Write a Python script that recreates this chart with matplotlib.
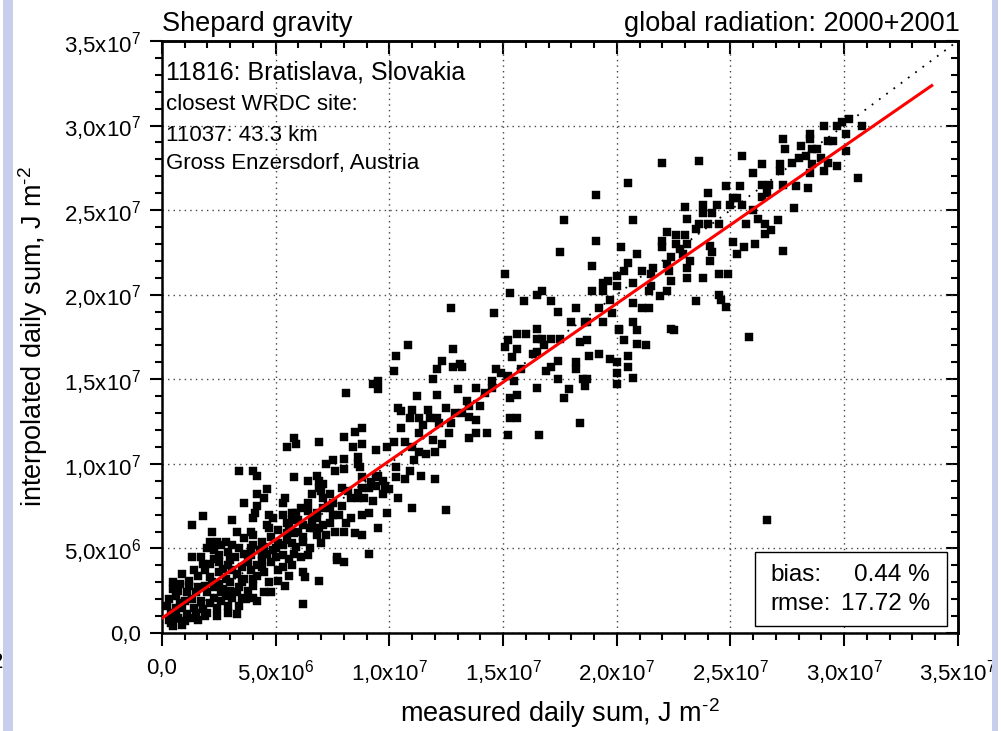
import numpy as np
import matplotlib
matplotlib.use("Agg")
import matplotlib.pyplot as plt
from matplotlib.patches import Rectangle
from matplotlib.ticker import MultipleLocator, FuncFormatter

plt.rcParams['font.family'] = ['Liberation Sans', 'DejaVu Sans']
plt.rcParams['mathtext.fontset'] = 'custom'
plt.rcParams['mathtext.rm'] = 'Liberation Sans'
plt.rcParams['mathtext.it'] = 'Liberation Sans'

# measured vs interpolated daily sums, in MJ m-2 (scaled to J m-2 below)
pts_upper = [
    (29.1,30.0),(29.7,30.0),(29.9,30.2),(30.2,30.4),(30.8,30.0),(30.1,29.5),(28.5,29.5),(28.5,29.2),
    (27.3,29.2),(28.1,28.8),(27.4,28.6),(28.6,28.6),(28.8,28.6),(29.3,29.1),(29.5,29.1),(30.1,28.5),
    (25.5,28.2),(23.6,27.9),(22.0,27.8),(26.4,27.7),(27.2,27.7),(27.7,27.8),(28.0,28.1),(28.3,28.2),
    (28.6,27.7),(29.0,28.1),(29.3,27.8),(29.7,27.6),(29.1,27.3),(28.5,27.2),(27.2,27.3),(26.0,27.2),
    (30.6,26.9),(20.5,26.6),(24.8,26.4),(25.4,26.4),(26.4,26.5),(26.7,26.5),(27.3,26.5),(27.9,26.4),
    (28.4,26.3),(19.1,25.9),(24.0,26.0),(25.1,25.7),(25.3,25.7),(26.4,25.8),(26.6,26.0),(23.0,25.2),
    (23.8,25.3),(24.4,25.3),(25.0,25.3),(25.5,25.3),(26.0,25.0),(27.8,25.1),(20.7,24.4),(23.1,24.5),
    (23.8,24.8),(24.2,24.8),(23.6,24.2),(24.0,24.2),(23.5,23.9),(24.5,24.2),(25.7,24.2),(26.2,24.5),
    (26.5,24.2),(27.1,24.4),(26.5,23.6),(26.8,23.8),(22.2,23.7),(22.6,23.5),(23.0,23.5),(22.0,23.2),
    (22.6,23.0),(23.1,23.0),(25.1,23.1),(19.1,23.2),(20.2,22.8),(22.0,22.8),(22.8,22.7),(24.1,22.9),
    (24.2,22.5),(25.3,22.4),(25.6,22.8),(26.1,23.0),(27.3,22.6),(20.9,22.4),(22.4,22.2),(22.9,22.4),
    (23.2,22.0),(24.1,22.0),(18.9,21.7),(20.5,21.9),(21.6,21.6),(22.2,21.8),(23.1,21.6),(20.3,21.4),
    (21.1,21.4),(22.3,21.4),(24.5,21.2),(24.9,21.2),(20.0,21.1),(21.5,21.2),(23.1,21.0),(23.8,21.0),
    (22.4,20.8),(19.4,20.7),(19.6,20.8),(20.7,20.7),(20.0,20.5),(21.5,20.5),(18.9,20.2),(19.4,20.2),
    (21.4,20.2),(22.2,20.2),(21.9,19.9),(24.5,20.0),(24.6,19.7),(19.7,19.7),(23.5,19.6),(24.8,19.3),
    (19.2,19.2),(19.8,18.9),(20.7,19.5),(21.1,19.2),(21.4,19.2),(18.6,18.4),(19.4,18.4),(20.1,18.0),
    (20.7,18.4),(22.4,18.0),
    (20.9,17.9),(21.3,17.0),(20.9,17.1),(20.3,17.3),(20.1,17.9),(18.8,16.4),(19.2,16.5),(19.7,16.2),
    (20.0,16.0),(20.5,16.4),(20.5,15.7),(20.0,15.4),(20.7,15.1),(20.0,14.7),(22.5,17.9),(25.8,17.5),
    (18.4,12.4),(18.7,17.3),(18.4,17.2),(26.6,6.7),
    (17.7,24.4),(17.5,22.5),(15.1,21.2),(15.3,20.1),(16.5,20.0),(16.7,20.2),(15.9,19.6),(17.1,19.6),
    (14.6,18.9),(17.4,19.0),(18.2,19.2),(12.7,19.2),
]

pts_middle = [
    (18.0,18.4),(18.7,18.4),(15.6,17.7),(16.0,17.7),(16.5,18.0),(16.5,17.4),(16.7,17.4),(17.1,17.4),
    (15.2,17.3),(15.6,16.8),(15.1,16.9),(16.3,16.5),(16.5,16.6),(16.8,17.0),(17.5,17.4),(15.4,16.3),
    (17.4,16.1),(18.2,16.0),(17.1,15.7),(16.9,15.5),(18.2,15.6),(14.7,15.6),(15.8,15.6),(15.2,15.2),
    (17.4,15.0),(18.5,15.0),(18.7,15.0),(18.6,14.6),(17.9,14.4),(16.5,14.5),(15.5,14.9),(14.5,14.9),
    (14.9,15.4),(15.3,13.9),(15.6,14.1),(17.7,13.9),(15.3,12.7),(15.6,12.7),(16.6,11.7),(15.2,11.7),
    (10.3,16.4),(10.8,17.0),(10.2,15.5),(9.3,14.7),(9.5,14.9),(9.5,14.4),(8.1,14.2),(12.8,16.8),
    (12.3,16.1),(12.1,15.6),(12.8,15.7),(13.1,15.9),(13.2,15.7),(11.9,15.0),(13.8,14.5),(13.0,14.4),
    (12.1,14.1),(11.2,14.0),(14.2,14.2),(14.5,14.5),(13.4,13.7),(13.5,13.4),(14.0,13.4),(12.5,13.3),
    (12.9,13.0),(13.2,13.0),(10.4,13.3),(10.5,13.1),(11.0,13.2),(11.7,13.2),(10.9,12.7),(11.3,12.7),
    (11.8,12.7),(12.1,12.7),(12.2,12.4),(12.7,12.4),(13.5,12.8),(13.8,12.6),(10.5,12.1),(11.5,12.3),
    (11.3,11.8),(12.6,11.8),(13.8,11.8),(13.5,11.5),(14.3,11.8),(11.9,11.4),(12.3,11.2),(10.2,11.3),
    (10.7,11.3),(9.9,11.0),(11.0,11.0),
    (5.8,11.5),(5.9,11.2),(6.9,11.3),(8.0,11.6),(8.5,11.9),(8.8,12.1),(8.8,11.2),(8.4,11.0),
    (9.4,10.8),(5.5,11.0),
    (10.3,9.8),(10.9,9.6),(11.1,10.2),(11.6,10.6),(12.0,10.7),(11.3,10.7),(10.0,8.5),(9.7,8.2),
]

pts_lower = [
    (7.5,10.2),(8.0,10.3),(7.2,10.0),(8.6,10.4),(8.6,10.0),(8.7,9.8),(8.0,9.7),(7.6,9.6),(8.8,9.2),
    (9.2,8.9),(9.4,9.2),(9.5,9.3),(9.7,9.0),(9.8,8.7),(9.4,8.7),(9.1,8.6),(8.8,8.6),(8.6,8.3),
    (8.2,8.4),(7.9,8.6),(8.3,8.0),(8.6,8.0),(10.3,9.2),(10.4,8.0),(10.7,9.1),(11.0,7.4),(12.5,7.3),
    (11.4,9.3),(12.0,9.1),(9.9,7.1),(9.5,6.2),(9.1,7.1),(8.8,5.8),(9.1,4.7),(7.7,4.5),(7.6,6.0),
    (8.1,6.5),(7.8,7.0),(7.0,5.3),(6.9,6.2),(6.8,5.8),(6.2,5.7),(6.5,6.2),(6.6,6.7),(6.8,7.1),
    (7.1,7.4),(7.4,7.4),(7.5,7.7),(7.4,8.2),(7.1,8.0),(7.0,8.4),(7.1,8.8),(6.6,8.2),(6.4,7.7),
    (6.4,7.2),(6.1,7.4),(5.9,7.1),(5.7,7.1),(5.7,6.7),(6.0,6.7),(6.2,6.4),(5.6,6.2),(5.3,7.0),
    (5.3,7.7),(5.4,8.0),(4.7,7.0),(4.5,8.0),(4.6,8.5),(4.2,8.2),(4.0,6.8),(4.2,7.5),(5.8,5.9),
    (5.1,6.1),(4.7,6.2),(4.0,5.8),(3.9,5.0),(4.8,5.7),(5.5,5.9),(5.3,5.2),(5.9,5.1),(6.2,5.4),
    (4.5,5.1),(4.9,4.9),(5.8,4.7),(4.4,4.6),(5.3,4.6),(6.1,4.5),(4.0,9.6),(4.2,9.3),(5.8,9.2),
    (6.4,9.0),(6.8,9.3),(6.9,9.0),(6.9,8.6),
    (6.8,6.8),(7.3,7.5),(7.5,7.0),(7.9,7.5),(8.5,5.9),(7.1,6.4),
    (8.3,6.8),(8.8,7.0),(9.3,7.8),(8.9,8.0),(7.2,5.8),(7.4,6.5),(8.0,6.0),(6.0,6.0),(6.7,6.2),
    (3.4,9.6),(1.8,6.9),(1.3,6.4),(2.2,6.0),(3.1,6.7),(3.3,6.0),(3.6,7.7),(2.1,5.4),(2.4,5.4),
    (2.8,5.4),(3.1,5.2),(3.4,5.0),(1.3,4.5),(2.0,5.0),
    (4.1,7.1),(3.9,6.0),(4.6,6.4),(2.3,4.9),(2.9,4.8),(4.0,5.2),(4.3,4.9),(5.1,5.3),(6.4,4.6),
    (5.5,5.5),(1.8,4.1),(2.1,4.1),(2.5,4.2),(2.9,4.0),(3.1,3.7),(3.5,3.9),(3.8,4.2),(4.2,4.0),
    (4.4,4.3),(4.8,4.2),(5.1,3.7),(5.3,3.9),(5.7,4.0),(6.2,3.6),(6.3,3.3),(5.1,3.1),(4.7,3.0),
    (4.0,2.8),(3.4,2.7),(2.5,2.9),(2.8,3.2),(2.1,3.3),(1.6,3.4),(1.2,3.1),(0.8,2.9),(0.5,3.0),
    (0.7,2.5),(1.1,2.4),(1.5,2.4),(2.0,2.4),(2.6,2.4),(3.1,2.1),(3.5,2.1),(4.0,2.1),(4.2,1.9),
    (2.6,1.9),(2.1,1.8),(1.8,1.4),(1.4,1.5),(0.9,1.5),(0.6,1.5),(0.4,1.2),(0.7,0.9),(1.1,1.1),
    (1.5,1.2),(2.0,1.2),(0.4,0.6),(6.2,1.7),(4.8,2.4),(7.7,4.3),(8.0,4.2),(6.9,3.1),
    (0.3,2.0),(0.6,2.2),(1.0,1.9),(1.3,2.0),(1.7,1.9),(2.3,2.1),(2.8,2.2),(3.3,2.4),(3.8,2.5),
    (1.2,2.8),(1.9,2.8),(2.3,2.7),(3.0,3.0),(3.6,3.2),(4.2,3.4),(1.4,3.7),(1.9,3.7),(2.5,3.6),
    (3.3,3.5),(3.9,3.7),(4.5,3.6),(0.6,1.0),(1.0,0.7),(1.3,0.9),(0.3,0.8),(2.4,1.5),(2.9,1.6),
    (3.4,1.6),(0.9,3.5),(0.5,2.6),(1.7,4.5),(2.5,4.6),(3.2,4.5),(3.6,4.7),
    (0.2,1.6),(0.8,1.8),(1.6,2.7),(2.2,3.0),(2.7,2.6),(3.0,2.5),(3.5,3.0),(4.0,3.2),(4.4,3.9),
    (2.7,3.8),(2.3,4.4),(3.0,4.3),(3.9,4.6),(4.6,4.7),(5.0,4.5),(5.6,4.4),(5.0,5.0),(5.7,5.3),
    (6.5,5.0),(2.6,5.2),(3.6,5.6),(4.4,5.4),(4.9,6.8),(5.5,6.5),(3.7,2.0),(4.5,2.4),(5.4,2.8),
    (5.6,3.4),(1.9,1.0),(2.4,1.0),(1.6,0.8),(0.9,0.5),(0.5,0.4),(2.9,1.2),(3.3,1.1),
]

pts = np.array(pts_upper + pts_middle + pts_lower) * 1e6
measured = pts[:, 0]
interpolated = pts[:, 1]

# linear regression shown in red
fit_slope = 0.93
fit_intercept = 0.88e6
fit_x = np.array([0.0, 33.85e6])
fit_y = fit_slope * fit_x + fit_intercept

bias_pct = 0.44
rmse_pct = 17.72


def sci_label(v, pos):
    if v == 0:
        return '0,0'
    e = int(np.floor(np.log10(abs(v)) + 1e-9))
    m = v / 10 ** e
    return ('%.1f' % m).replace('.', ',') + r'x10$^{%d}$' % e


fig = plt.figure(figsize=(10.03, 7.31), dpi=100)
ax = fig.add_axes([0.1615, 0.134, 0.7935, 0.810])

ax.plot([0, 35e6], [0, 35e6], color='black', lw=1.3, ls=(0, (1, 4)), zorder=2)
ax.plot(measured, interpolated, 's', color='black', ms=6.0, mec='black', mew=0.3, zorder=3)
ax.plot(fit_x, fit_y, color='#ff0000', lw=2.2, zorder=4)

ax.set_xlim(0, 35e6)
ax.set_ylim(0, 35e6)

for axis in (ax.xaxis, ax.yaxis):
    axis.set_major_locator(MultipleLocator(5e6))
    axis.set_minor_locator(MultipleLocator(1e6))
    axis.set_major_formatter(FuncFormatter(sci_label))

ax.grid(True, which='major', color='#444444', lw=1.0, ls=(0, (1, 3)))
ax.tick_params(which='both', direction='out', width=1.5, labelsize=16, pad=6)
ax.tick_params(axis='x', pad=9)
ax.tick_params(which='major', length=9)
ax.tick_params(which='minor', length=5)
for sp in ax.spines.values():
    sp.set_linewidth(1.8)

# inward ticks on the top and right edges
top = ax.secondary_xaxis('top')
right = ax.secondary_yaxis('right')
for sec, axis in ((top, top.xaxis), (right, right.yaxis)):
    axis.set_major_locator(MultipleLocator(5e6))
    axis.set_minor_locator(MultipleLocator(1e6))
    sec.tick_params(which='both', direction='in', width=1.5,
                    labeltop=False, labelright=False)
    sec.tick_params(which='major', length=9)
    sec.tick_params(which='minor', length=5)
    for sp in sec.spines.values():
        sp.set_linewidth(1.8)

ax.set_xlabel(r'measured daily sum, J m$^{\text{-2}}$', fontsize=19.5, labelpad=7)
ax.set_ylabel(r'interpolated daily sum, J m$^{\text{-2}}$', fontsize=19.5, labelpad=10)

ax.text(0.0, 1.006, 'Shepard gravity', transform=ax.transAxes, fontsize=19.5,
        ha='left', va='bottom')
ax.text(1.003, 1.006, 'global radiation: 2000+2001', transform=ax.transAxes,
        fontsize=19.5, ha='right', va='bottom')

ax.text(0.005, 0.946, '11816: Bratislava, Slovakia', transform=ax.transAxes,
        fontsize=18, ha='left', va='center')
ax.text(0.005, 0.892, 'closest WRDC site:', transform=ax.transAxes,
        fontsize=16, ha='left', va='center')
ax.text(0.005, 0.840, '11037: 43.3 km', transform=ax.transAxes,
        fontsize=16, ha='left', va='center')
ax.text(0.005, 0.793, 'Gross Enzersdorf, Austria', transform=ax.transAxes,
        fontsize=16, ha='left', va='center')

ax.add_patch(Rectangle((0.745, 0.012), 0.241, 0.125, transform=ax.transAxes,
                       facecolor='white', edgecolor='black', lw=1.0, zorder=5))
ax.text(0.765, 0.098, 'bias:', transform=ax.transAxes, fontsize=17.5,
        ha='left', va='center', zorder=6)
ax.text(0.965, 0.098, '%.2f %%' % bias_pct, transform=ax.transAxes, fontsize=17.5,
        ha='right', va='center', zorder=6)
ax.text(0.765, 0.049, 'rmse:', transform=ax.transAxes, fontsize=17.5,
        ha='left', va='center', zorder=6)
ax.text(0.965, 0.049, '%.2f %%' % rmse_pct, transform=ax.transAxes, fontsize=17.5,
        ha='right', va='center', zorder=6)

# side strips of the page
fig.text(3.5 / 1003, 1 - 662 / 731, '2', fontsize=16, ha='right', va='center')
fig.patches.append(Rectangle((3.3 / 1003, 0), 10 / 1003, 1, transform=fig.transFigure,
                             facecolor='#c7cfec', edgecolor='none', zorder=10))
fig.patches.append(Rectangle((992 / 1003, 0), 6 / 1003, 1, transform=fig.transFigure,
                             facecolor='#c7cfec', edgecolor='none', zorder=10))

fig.savefig('out.png', dpi=100)
